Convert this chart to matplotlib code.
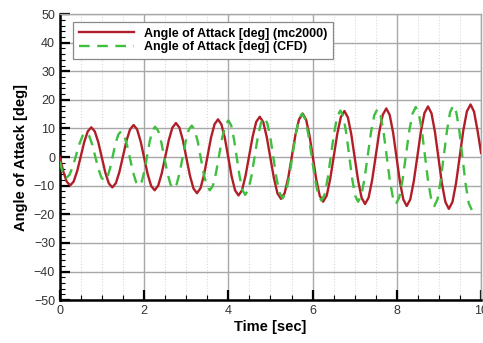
import matplotlib
matplotlib.use("Agg")
import matplotlib.pyplot as plt
from matplotlib.ticker import MultipleLocator

# Angle of attack (peaks, troughs and points in between)
mc2000_time = [0.0, 0.078, 0.162, 0.245,
               0.328, 0.412, 0.495, 0.578, 0.662, 0.745,
               0.828, 0.912, 0.995, 1.078, 1.162, 1.245,
               1.329, 1.413, 1.498, 1.582, 1.666, 1.75,
               1.833, 1.917, 2.0, 2.083, 2.167, 2.25,
               2.334, 2.418, 2.503, 2.587, 2.671, 2.755,
               2.838, 2.922, 3.005, 3.088, 3.172, 3.255,
               3.338, 3.422, 3.505, 3.588, 3.672, 3.755,
               3.836, 3.917, 3.998, 4.078, 4.159, 4.24,
               4.324, 4.408, 4.493, 4.577, 4.661, 4.745,
               4.829, 4.913, 4.998, 5.082, 5.166, 5.25,
               5.336, 5.422, 5.508, 5.593, 5.679, 5.765,
               5.846, 5.927, 6.008, 6.088, 6.169, 6.25,
               6.334, 6.418, 6.503, 6.587, 6.671, 6.755,
               6.837, 6.918, 7.0, 7.082, 7.163, 7.245,
               7.329, 7.413, 7.498, 7.582, 7.666, 7.75,
               7.831, 7.912, 7.993, 8.073, 8.154, 8.235,
               8.319, 8.403, 8.488, 8.572, 8.656, 8.74,
               8.823, 8.905, 8.988, 9.07, 9.153, 9.235,
               9.321, 9.407, 9.493, 9.578, 9.664, 9.75,
               9.833, 9.917, 10.0]
mc2000_aoa = [0.0, -4.9, -8.6, -9.9,
              -8.5, -4.8, 0.2, 5.3, 9.0, 10.4,
              9.0, 5.2, -0.1, -5.4, -9.2, -10.6,
              -9.1, -5.2, 0.3, 5.8, 9.7, 11.2,
              9.7, 5.5, -0.2, -5.9, -10.1, -11.6,
              -10.0, -5.7, 0.2, 6.0, 10.3, 11.9,
              10.3, 5.8, -0.4, -6.5, -11.0, -12.6,
              -10.9, -6.2, 0.3, 6.8, 11.5, 13.2,
              11.4, 6.6, -0.1, -6.8, -11.6, -13.4,
              -11.6, -6.5, 0.4, 7.2, 12.3, 14.1,
              12.2, 6.9, -0.3, -7.4, -12.7, -14.6,
              -12.6, -7.2, 0.3, 7.8, 13.2, 15.2,
              13.1, 7.5, -0.2, -7.9, -13.5, -15.6,
              -13.5, -7.7, 0.3, 8.2, 14.0, 16.1,
              13.9, 8.0, -0.2, -8.3, -14.2, -16.4,
              -14.2, -8.1, 0.3, 8.7, 14.8, 17.0,
              14.7, 8.5, -0.1, -8.6, -14.8, -17.1,
              -14.8, -8.4, 0.3, 9.0, 15.4, 17.7,
              15.3, 8.8, -0.2, -9.2, -15.7, -18.1,
              -15.7, -9.0, 0.2, 9.3, 16.0, 18.4,
              15.9, 9.2, 1.5]

cfd_time = [0.0, 0.077, 0.15,
            0.228, 0.307, 0.385, 0.463, 0.542, 0.62,
            0.693, 0.767, 0.84, 0.913, 0.987, 1.06,
            1.125, 1.19, 1.255, 1.32, 1.385, 1.45,
            1.522, 1.593, 1.665, 1.737, 1.808, 1.88,
            1.943, 2.007, 2.07, 2.133, 2.197, 2.26,
            2.333, 2.407, 2.48, 2.553, 2.627, 2.7,
            2.772, 2.843, 2.915, 2.987, 3.058, 3.13,
            3.202, 3.273, 3.345, 3.417, 3.488, 3.56,
            3.633, 3.707, 3.78, 3.853, 3.927, 4.0,
            4.067, 4.133, 4.2, 4.267, 4.333, 4.4,
            4.475, 4.55, 4.625, 4.7, 4.775, 4.85,
            4.923, 4.997, 5.07, 5.143, 5.217, 5.29,
            5.367, 5.443, 5.52, 5.597, 5.673, 5.75,
            5.827, 5.903, 5.98, 6.057, 6.133, 6.21,
            6.285, 6.36, 6.435, 6.51, 6.585, 6.66,
            6.73, 6.8, 6.87, 6.94, 7.01, 7.08,
            7.157, 7.233, 7.31, 7.387, 7.463, 7.54,
            7.613, 7.687, 7.76, 7.833, 7.907, 7.98,
            8.058, 8.137, 8.215, 8.293, 8.372, 8.45,
            8.523, 8.597, 8.67, 8.743, 8.817, 8.89,
            8.965, 9.04, 9.115, 9.19, 9.265, 9.34,
            9.413, 9.487, 9.56, 9.633, 9.707, 9.78]
cfd_aoa = [-1.5, -6.3, -7.3,
           -6.2, -3.3, 0.6, 4.6, 7.5, 8.6,
           7.5, 4.4, 0.2, -4.1, -7.2, -8.3,
           -7.1, -4.0, 0.4, 4.7, 7.8, 9.0,
           7.7, 4.3, -0.5, -5.3, -8.7, -10.0,
           -8.6, -4.9, 0.3, 5.5, 9.2, 10.6,
           9.2, 5.2, -0.2, -5.6, -9.6, -11.0,
           -9.5, -5.5, 0.0, 5.5, 9.5, 11.0,
           9.5, 5.4, -0.3, -6.0, -10.1, -11.6,
           -10.0, -5.5, 0.6, 6.7, 11.2, 12.8,
           11.1, 6.3, -0.2, -6.7, -11.5, -13.2,
           -11.4, -6.5, 0.3, 7.1, 12.0, 13.8,
           11.9, 6.8, -0.3, -7.4, -12.5, -14.4,
           -12.4, -7.0, 0.4, 7.8, 13.2, 15.2,
           13.2, 7.6, 0.0, -7.6, -13.2, -15.2,
           -13.1, -7.3, 0.6, 8.4, 14.2, 16.3,
           14.2, 8.3, 0.4, -7.6, -13.5, -15.6,
           -13.4, -7.5, 0.6, 8.7, 14.6, 16.8,
           14.6, 8.5, 0.2, -8.1, -14.2, -16.4,
           -14.1, -7.9, 0.6, 9.0, 15.2, 17.5,
           15.2, 8.9, 0.2, -8.5, -14.8, -17.1,
           -14.8, -8.3, 0.5, 9.2, 15.7, 18.0,
           15.6, 8.9, -0.3, -9.4, -16.1, -18.5]

plt.rcParams['font.family'] = ['Liberation Sans', 'DejaVu Sans']

fig = plt.figure(figsize=(4.83, 3.43), dpi=100)
ax = fig.add_subplot(111)
fig.subplots_adjust(left=0.124, right=0.996, bottom=0.125, top=0.959)

ax.plot(mc2000_time, mc2000_aoa, color='#b01f28', lw=1.7,
        label='Angle of Attack [deg] (mc2000)', zorder=3)
ax.plot(cfd_time, cfd_aoa, color='#3fbf3f', lw=1.7, dashes=(4.5, 3.2),
        label='Angle of Attack [deg] (CFD)', zorder=3)

ax.set_xlim(0, 10)
ax.set_ylim(-50, 50)
ax.xaxis.set_major_locator(MultipleLocator(2))
ax.xaxis.set_minor_locator(MultipleLocator(0.5))
ax.yaxis.set_major_locator(MultipleLocator(10))
ax.yaxis.set_minor_locator(MultipleLocator(2))

ax.grid(which='major', color='#a8a8a8', lw=1.0)
ax.grid(which='minor', axis='x', color='#d8d8d8', lw=0.8, ls=':')
ax.set_axisbelow(True)

ax.tick_params(which='major', direction='in', length=7, width=1.6,
               labelsize=9, labelcolor='#333333', top=False, right=False)
ax.tick_params(which='minor', direction='in', length=3.5, width=0.8,
               top=False, right=False)

for side in ['left', 'bottom']:
    ax.spines[side].set_linewidth(1.8)
    ax.spines[side].set_color('black')
for side in ['top', 'right']:
    ax.spines[side].set_linewidth(1.0)
    ax.spines[side].set_color('#a8a8a8')

ax.set_xlabel('Time [sec]', fontsize=10.5, fontweight='bold', labelpad=2)
ax.set_ylabel('Angle of Attack [deg]', fontsize=10.5, fontweight='bold', labelpad=4)

leg = ax.legend(loc='upper left', bbox_to_anchor=(0.031, 0.972), borderaxespad=0,
                fancybox=False, edgecolor='#888888', framealpha=1, handlelength=4.4,
                borderpad=0.45, labelspacing=0.1, handletextpad=0.8,
                prop={'weight': 'bold', 'size': 9})
leg.get_frame().set_linewidth(0.9)

plt.savefig('out.png', dpi=100)
